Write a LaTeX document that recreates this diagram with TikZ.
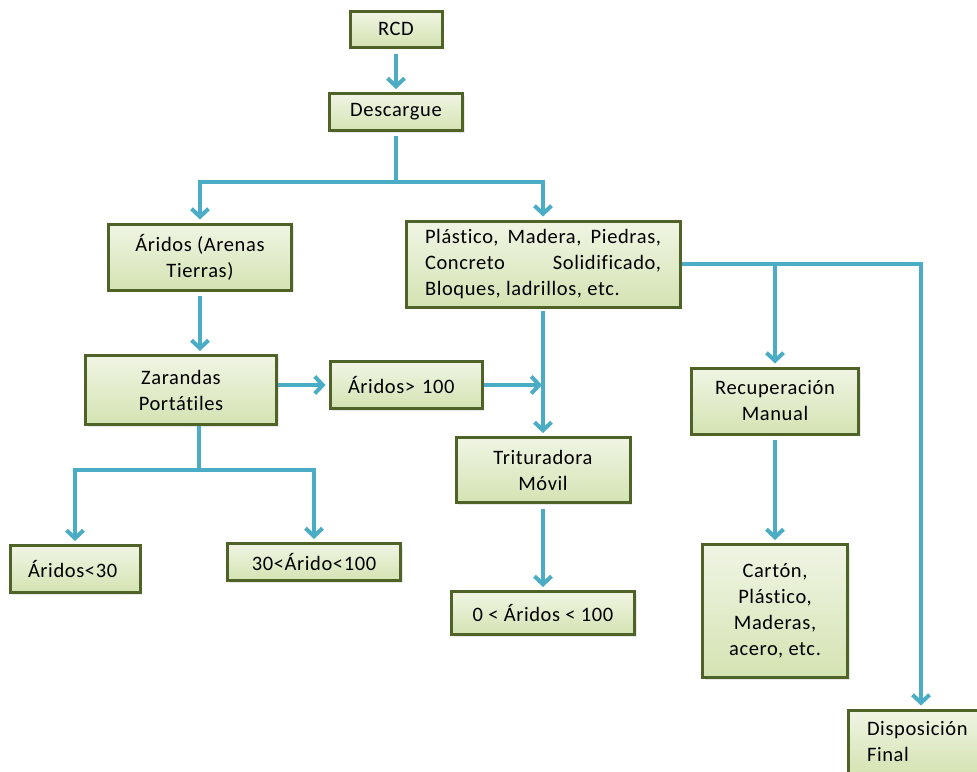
\documentclass[tikz,border=0pt]{standalone}
\usepackage{fontspec}
\setmainfont{Carlito}[LetterSpace=3.0, Ligatures=NoCommon]
\usepackage{xcolor}
\usetikzlibrary{arrows.meta,
	shadows,
	calc}

\definecolor{flechaazul}{RGB}{75,172,198}
\definecolor{bordeverde}{RGB}{79,98,40}
\definecolor{verdeclaro}{RGB}{240,245,228}
\definecolor{verdemedio}{RGB}{212,227,178}

\tikzset{
	caja/.style={draw=bordeverde, line width=3pt, top color=verdeclaro, bottom color=verdemedio,
		inner sep=0pt, font=\fontsize{20.5}{26}\selectfont,
		drop shadow={opacity=0.18, shadow xshift=2pt, shadow yshift=-2pt}},
	linea/.style={draw=flechaazul, line width=4pt},
	flecha/.style={linea, -{Straight Barb[length=8pt,width=17pt]}, shorten >=3pt},
}

\begin{document}
\begin{tikzpicture}[x=1pt, y=-1pt]
                            \useasboundingbox (0,0) rectangle (977,771);
                            \node (rcd) [caja, minimum width=92pt, minimum height=36pt] at (396,29) {RCD};
                            \node (desc) [caja, minimum width=133pt, minimum height=37pt] at (396,112) {Descargue};
                            \node (arid) [caja, minimum width=183pt, minimum height=66pt, align=center] at (200,257) {Áridos (Arenas\\Tierras)};
                            \node (plast) [caja, minimum width=274pt, minimum height=86pt, text width=236pt, align=justify] at (543,264)
                                {\noindent Plástico, Madera, Piedras, \linebreak Concreto Solidificado, \linebreak Bloques, ladrillos, etc.};
                            \node (zar) [caja, minimum width=191pt, minimum height=69pt, align=center] at (181,390) {Zarandas\\Portátiles};
                            \node (aridg) [caja, minimum width=152pt, minimum height=47pt, text width=116pt, align=left] at (406,385) {Áridos> 100};
                            \node (a30) [caja, minimum width=130pt, minimum height=47pt, text width=94pt, align=left] at (75,569) {Áridos<30};
                            \node (a100) [caja, minimum width=173pt, minimum height=37pt] at (314,562) {30<Árido<100};
                            \node (trit) [caja, minimum width=174pt, minimum height=65pt, align=center] at (543,470) {Trituradora\\Móvil};
                            \node (cero) [caja, minimum width=183pt, minimum height=43pt] at (543,613) {0 < Áridos < 100};
                            \node (rec) [caja, minimum width=167pt, minimum height=66pt, align=center] at (775,401) {Recuperación\\Manual};
                            \node (cart) [caja, minimum width=145pt, minimum height=133pt, align=center] at (775,611) {Cartón,\\Plástico,\\Maderas,\\acero, etc.};
                            \node (disp) [caja, minimum width=146pt, minimum height=64pt, text width=108pt, align=left] at (921,742) {Disposición\\Final};
                            \coordinate (fork1) at (396,182);
                            \coordinate (fork2) at (199,470);
                            \draw[flecha, shorten <=5pt] (rcd) -- (desc);
                            \draw[linea, shorten <=4pt] (desc) -- (fork1);
                            \draw[flecha] (fork1) -| (arid);
                            \draw[flecha] (fork1) -| (plast);
                            \draw[flecha, shorten <=4pt] (arid) -- (arid |- zar.north);
                            \draw[linea] (zar.south -| fork2) -- (fork2);
                            \draw[flecha] (fork2) -| (a30);
                            \draw[flecha] (fork2) -| (a100);
                            \draw[flecha] (zar.east |- aridg) -- (aridg);
                            \draw[flecha, shorten >=1pt] (aridg) -- (aridg -| plast);
                            \draw[flecha, shorten <=2pt] (plast) -- (trit);
                            \draw[flecha, shorten <=5pt] (trit) -- (cero);
                            \draw[flecha] (plast.east) -| (disp);
                            \draw[flecha] (plast.east -| rec) -- (rec);
                            \draw[flecha, shorten <=4pt] (rec) -- (cart);
                        \end{tikzpicture}
\end{document}
